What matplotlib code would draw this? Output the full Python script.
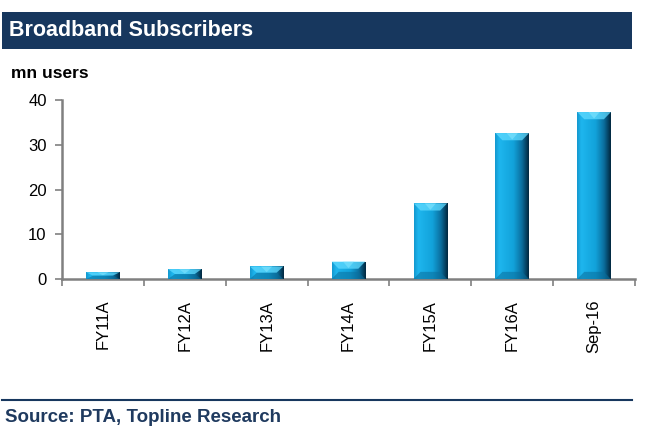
import matplotlib
matplotlib.use("Agg")
import matplotlib.pyplot as plt
import numpy as np
from matplotlib.colors import LinearSegmentedColormap
from matplotlib.patches import Polygon, Rectangle

plt.rcParams['font.family'] = ['Liberation Sans', 'DejaVu Sans']

categories = ["FY11A", "FY12A", "FY13A", "FY14A", "FY15A", "FY16A", "Sep-16"]
subscribers = [1.5, 2.2, 2.8, 3.9, 16.9, 32.6, 37.3]
y_ticks = [0, 10, 20, 30, 40]

navy = "#17375E"
face_cmap = LinearSegmentedColormap.from_list(
    "bevel", [(0.0, "#1398CF"), (0.12, "#1EB6EE"), (0.55, "#12A2DA"),
              (0.8, "#0B6E9E"), (1.0, "#02283F")])


def bevel_bar(ax, patch, bx, by):
    x0, y0 = patch.get_x(), patch.get_y()
    w, h = patch.get_width(), patch.get_height()
    x1, y1 = x0 + w, y0 + h
    grad = np.linspace(0, 1, 64).reshape(1, -1)
    im = ax.imshow(grad, cmap=face_cmap, extent=[x0, x1, y0, y1],
                   aspect="auto", zorder=3, interpolation="bicubic")
    im.set_clip_path(patch)
    byc = min(by, h / 2)
    top = Polygon([(x0, y1), (x1, y1), (x1 - bx, y1 - byc), (x0 + bx, y1 - byc)],
                  closed=True, fc="#5FDAFF", ec="none", alpha=0.75, zorder=4)
    ax.add_patch(top)
    mid = Polygon([(x0 + bx * 1.6, y1), (x1 - bx * 1.6, y1), (x0 + w / 2, y1 - byc * 0.9)],
                  closed=True, fc="#8CE8FF", ec="none", alpha=0.5, zorder=4)
    ax.add_patch(mid)
    bot = Polygon([(x0, y0), (x1, y0), (x1 - bx, y0 + byc), (x0 + bx, y0 + byc)],
                  closed=True, fc="#0A6E9C", ec="none", alpha=0.55, zorder=4)
    ax.add_patch(bot)


fig = plt.figure(figsize=(6.6, 4.34), dpi=100)

# title bar
fig.patches.append(Rectangle((2 / 660, 1 - 48.5 / 434), 630 / 660, 36.5 / 434,
                             transform=fig.transFigure, fc=navy, ec="none"))
fig.text(9 / 660, 1 - 31 / 434, "Broadband Subscribers", color="white",
         fontsize=15.5, fontweight="bold", va="center", ha="left")
fig.text(11 / 660, 1 - 73 / 434, "mn users", color="black",
         fontsize=12.5, fontweight="bold", va="center", ha="left")

ax = fig.add_axes([62 / 660, 1 - 279 / 434, 573 / 660, 179 / 434])
x = np.arange(len(categories))
bars = ax.bar(x, subscribers, width=0.41, color="none", edgecolor="none", zorder=2)
for p in bars.patches:
    bevel_bar(ax, p, 0.085, 1.6)

ax.set_xlim(-0.5, len(categories) - 0.5)
ax.set_ylim(0, 40)
ax.set_yticks(y_ticks)
ax.set_yticklabels([str(t) for t in y_ticks], fontsize=12)
ax.set_xticks(x)
ax.set_xticklabels(categories, rotation=90, fontsize=12)
ax.set_xticks(np.arange(len(categories) + 1) - 0.5, minor=True)
ax.tick_params(axis="x", which="major", length=0, pad=15)
ax.tick_params(axis="x", which="minor", length=5, width=1.2, color="#808080", direction="out")
ax.tick_params(axis="y", length=5, width=1.2, color="#808080", direction="out", pad=6)
for s in ["top", "right"]:
    ax.spines[s].set_visible(False)
for s in ["left", "bottom"]:
    ax.spines[s].set_color("#808080")
    ax.spines[s].set_linewidth(1.8)

# source line and text
fig.add_artist(plt.Line2D([2 / 660, 632 / 660], [1 - 400 / 434, 1 - 400 / 434],
                          transform=fig.transFigure, color=navy, lw=1.5))
fig.text(5 / 660, 1 - 418 / 434, "Source: PTA, Topline Research", color="#1F3A5F",
         fontsize=13.5, fontweight="bold", va="center", ha="left")

fig.savefig("out.png", dpi=100)
